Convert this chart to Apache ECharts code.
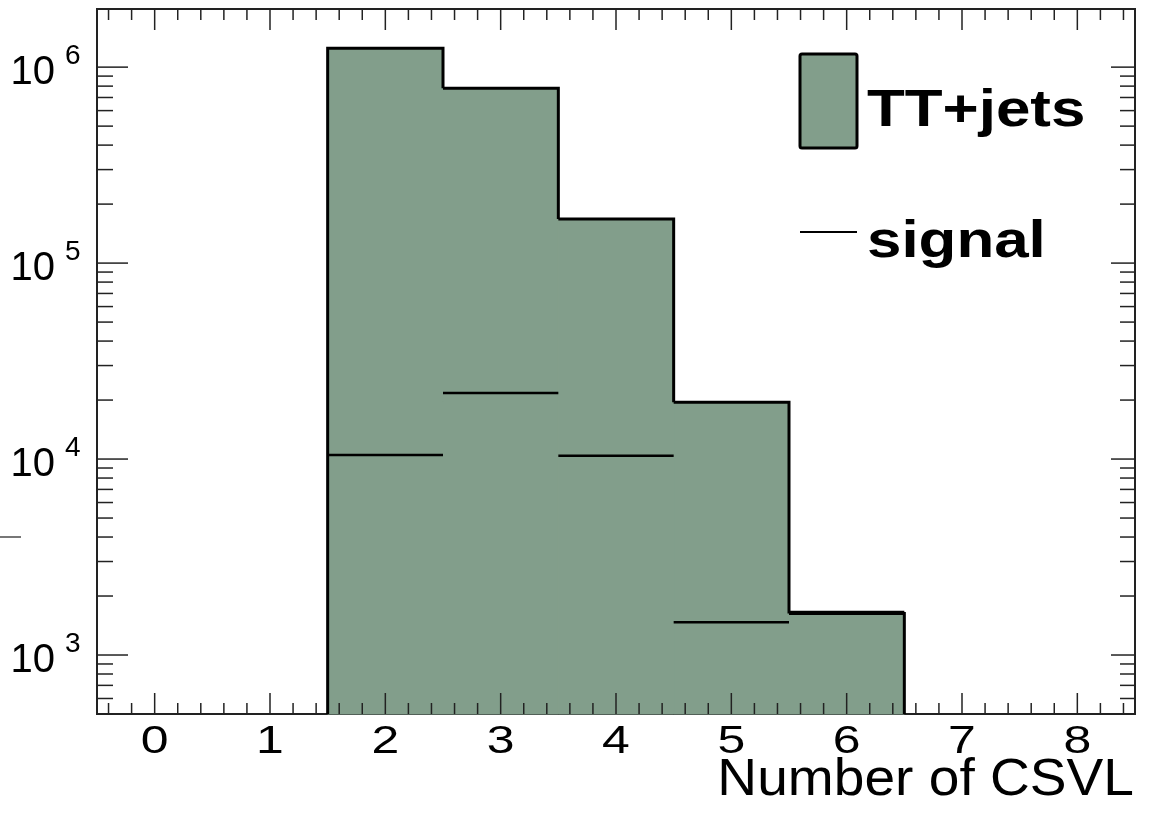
<!DOCTYPE html>
<html><head><meta charset="utf-8">
<script src="https://cdn.jsdelivr.net/npm/echarts@6/dist/echarts.min.js"></script>
<style>html,body{margin:0;padding:0;background:#fff}#c{width:1149px;height:813px}</style>
</head><body><div id="c"></div>
<script>
// ---- data ----
const binCenters = [2, 3, 4, 5, 6];
const ttjets = [1250000, 780000, 168000, 19500, 1630];
const signal = [10500, 21700, 10400, 1470, 1660];
const xTickLabels = ['0', '1', '2', '3', '4', '5', '6', '7', '8'];
const yDecades = [3, 4, 5, 6];
const legendNames = ['TT+jets', 'signal'];
const xTitle = 'Number of CSVL';

// ---- axis ranges ----
const yMin = 500, yMax = 1.98e6;
const xMin = -0.5, xMax = 8.5;
const half = 0.5;

const FONT = '"Liberation Sans", Arial, Helvetica, sans-serif';
const FILL = '#829e8b';
const AX = '#222';

// tick positions (axis decoration)
const xTicks = [];
for (let i = -2; i <= 42; i++) xTicks.push([+(i * 0.2).toFixed(1), yMin, i % 5 === 0 ? 1 : 0]);
const yTicks = [];
for (let k = 2; k <= 6; k++) for (let m = 1; m <= 9; m++) {
  const v = m * Math.pow(10, k);
  if (v >= yMin && v <= yMax) yTicks.push([xMin, v, m === 1 ? 1 : 0]);
}

const chart = echarts.init(document.getElementById('c'), null, {renderer: 'canvas'});
chart.setOption({
  animation: false,
  backgroundColor: '#fff',
  grid: {left: 97, top: 9, right: 14, bottom: 99, show: true, borderColor: AX, borderWidth: 2, containLabel: false},
  xAxis: {
    type: 'value', min: xMin, max: xMax, interval: 0.5,
    axisLine: {show: false}, axisTick: {show: false}, splitLine: {show: false}, axisLabel: {show: false}
  },
  yAxis: {
    type: 'log', logBase: 10, min: yMin, max: yMax,
    axisLine: {show: false}, axisTick: {show: false}, axisLabel: {show: false}, splitLine: {show: false}
  },
  series: [
    { // histogram fill
      type: 'custom', z: 2,
      data: binCenters.map((c, i) => [c, ttjets[i]]),
      renderItem(params, api) {
        const c = api.value(0), v = api.value(1);
        const a = api.coord([c - half, v]), b = api.coord([c + half, yMin]);
        return {type: 'rect', shape: {x: a[0], y: a[1], width: b[0] - a[0], height: b[1] - a[1]},
          style: {fill: FILL, stroke: FILL, lineWidth: 1}};
      }
    },
    { // signal
      type: 'custom', z: 3,
      data: binCenters.map((c, i) => [c, signal[i]]),
      renderItem(params, api) {
        const c = api.value(0), v = api.value(1);
        const a = api.coord([c - half, v]), b = api.coord([c + half, v]);
        return {type: 'line', shape: {x1: a[0], y1: a[1], x2: b[0], y2: b[1]},
          style: {stroke: '#000', lineWidth: 2.5}};
      }
    },
    { // histogram outline (step contour)
      type: 'custom', z: 4,
      data: binCenters.map((c, i) => [c, ttjets[i]]),
      renderItem(params, api) {
        const i = params.dataIndex, n = binCenters.length;
        const c = api.value(0), v = api.value(1);
        const pts = [];
        if (i === 0) pts.push(api.coord([c - half, yMin]));
        pts.push(api.coord([c - half, v]));
        pts.push(api.coord([c + half, v]));
        pts.push(api.coord([c + half, i === n - 1 ? yMin : ttjets[i + 1]]));
        return {type: 'polyline', shape: {points: pts},
          style: {stroke: '#000', lineWidth: 3, fill: null, lineJoin: 'miter'}};
      }
    },
    { // x ticks (bottom and top)
      type: 'custom', z: 5, silent: true,
      data: xTicks,
      renderItem(params, api) {
        const cs = params.coordSys;
        const px = api.coord([api.value(0), yMin])[0];
        const len = api.value(2) ? 21 : 11;
        const yb = cs.y + cs.height, yt = cs.y;
        return {type: 'group', children: [
          {type: 'line', shape: {x1: px, y1: yb, x2: px, y2: yb - len}, style: {stroke: AX, lineWidth: 1.5}},
          {type: 'line', shape: {x1: px, y1: yt, x2: px, y2: yt + len}, style: {stroke: AX, lineWidth: 1.5}}
        ]};
      }
    },
    { // x labels
      type: 'custom', z: 5, silent: true,
      data: xTickLabels.map((t, i) => [i, yMin]),
      renderItem(params, api) {
        const cs = params.coordSys;
        const px = api.coord([api.value(0), yMin])[0];
        return {type: 'text', x: px, y: cs.y + cs.height + 28, scaleX: 1.28,
          style: {text: xTickLabels[params.dataIndex], font: '39px ' + FONT, align: 'center', verticalAlign: 'middle', fill: '#000'}};
      }
    },
    { // y ticks (left and right)
      type: 'custom', z: 5, silent: true,
      data: yTicks,
      renderItem(params, api) {
        const cs = params.coordSys;
        const py = api.coord([xMin, api.value(1)])[1];
        const maj = api.value(2);
        const xl = cs.x, xr = cs.x + cs.width;
        return {type: 'group', children: [
          {type: 'line', shape: {x1: xl, y1: py, x2: xl + (maj ? 31 : 16), y2: py}, style: {stroke: AX, lineWidth: 1.5}},
          {type: 'line', shape: {x1: xr, y1: py, x2: xr - (maj ? 24 : 15), y2: py}, style: {stroke: AX, lineWidth: 1.5}}
        ]};
      }
    },
    { // y labels 10^k
      type: 'custom', z: 5, silent: true,
      data: yDecades.map(k => [xMin, Math.pow(10, k), k]),
      renderItem(params, api) {
        const cs = params.coordSys;
        const py = api.coord([xMin, api.value(1)])[1];
        const k = api.value(2);
        return {type: 'group', children: [
          {type: 'text', x: cs.x - 42, y: py + 6,
            style: {text: '10', font: '40px ' + FONT, align: 'right', verticalAlign: 'middle', fill: '#000'}},
          {type: 'text', x: cs.x - 32, y: py - 25,
            style: {text: String(k), font: '28px ' + FONT, align: 'left', verticalAlign: 'top', fill: '#000'}}
        ]};
      }
    }
  ],
  graphic: [
    {type: 'rect', shape: {x: 800, y: 54, width: 57, height: 94, r: 2},
      style: {fill: FILL, stroke: '#000', lineWidth: 3}},
    {type: 'text', x: 867, y: 112, scaleX: 1.19,
      style: {text: legendNames[0], font: 'bold 52px ' + FONT, align: 'left', verticalAlign: 'middle', fill: '#000'}},
    {type: 'line', shape: {x1: 800, y1: 232, x2: 857, y2: 232}, style: {stroke: '#000', lineWidth: 2}},
    {type: 'text', x: 867, y: 243, scaleX: 1.19,
      style: {text: legendNames[1], font: 'bold 52px ' + FONT, align: 'left', verticalAlign: 'middle', fill: '#000'}},
    {type: 'text', x: 1134, y: 781, scaleX: 1.06,
      style: {text: xTitle, font: '52px ' + FONT, align: 'right', verticalAlign: 'middle', fill: '#000'}},
    {type: 'line', shape: {x1: 0, y1: 537, x2: 21, y2: 537}, style: {stroke: '#777', lineWidth: 2}}
  ]
});
</script></body></html>
